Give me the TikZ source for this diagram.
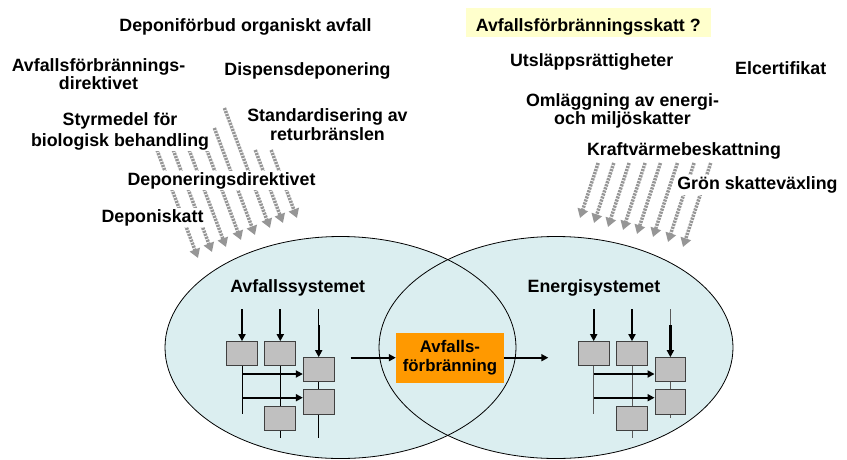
\documentclass[tikz,border=0pt]{standalone}
\usepackage{fontspec}
\setmainfont{Liberation Sans}
\usetikzlibrary{arrows.meta}
\definecolor{sysfill}{RGB}{219,238,240}
\definecolor{boxgray}{RGB}{192,192,192}
\definecolor{boxedge}{RGB}{64,64,64}
\definecolor{burnorange}{RGB}{255,153,0}
\definecolor{notefill}{RGB}{255,255,204}
\definecolor{arrowgray}{RGB}{150,150,150}
\definecolor{linegray}{RGB}{90,90,90}
\newcommand\cuefont{\bfseries\fontsize{17.8}{16}\selectfont\lineskiplimit=-10pt\relax}
\newcommand\burnfont{\bfseries\fontsize{16.8}{19}\selectfont}
\begin{document}
\begin{tikzpicture}[x=1pt,y=-1pt,
  cue/.style={font=\cuefont, fill=white, inner sep=1.5pt, align=center, anchor=base},
  sysname/.style={font=\cuefont, anchor=base, inner sep=0pt},
  pbox/.style={draw=boxedge, fill=boxgray, line width=1pt,
    minimum width=30.7pt, minimum height=24.3pt, inner sep=0pt},
  burnbox/.style={fill=burnorange, minimum width=108pt, minimum height=50pt, inner sep=0pt,
    align=center, font=\burnfont},
  flow/.style={line width=2pt, -{Triangle[length=7pt,width=7pt]}},
  feed/.style={line width=2.2pt, -{Triangle[length=7pt,width=7pt]}},
  instrument/.style={draw=arrowgray, line width=3.5pt, dash pattern=on 2.2pt off 1pt,
    -{Triangle[length=9pt,width=10.5pt]}},
  ]
\useasboundingbox (0,0) rectangle (847,459);

% the waste system and the energy system
\fill[sysfill] (340.5,347.5) ellipse [x radius=175.5pt, y radius=111pt];
\fill[sysfill] (556,347.5) ellipse [x radius=177pt, y radius=111pt];
\draw[line width=0.8pt] (340.5,347.5) ellipse [x radius=175.5pt, y radius=111pt];
\draw[line width=0.8pt] (556,347.5) ellipse [x radius=177pt, y radius=111pt];

% policy instruments acting on the waste system
\foreach \hx/\hy/\sy in {198/258/150, 212/252/150, 226/247/150, 241/240/150,
                         255/235/128, 270/228/108, 283/223/150, 297/218/150}
  \draw[instrument] ({\hx-0.38*(\hy-\sy)},\sy) -- (\hx,\hy);

% policy instruments acting on the energy system
\foreach \hx/\hy in {580/218, 594/223, 608/227, 623/230, 637/234, 653/237, 668/242, 683/247}
  \draw[instrument] ({\hx+0.33*(\hy-163)},163) -- (\hx,\hy);

% instrument names (multi-line names are placed by their last baseline)
\node[cue] (ban)  at (245.5,31)  {Deponiförbud organiskt avfall};
\node[cue] (wid)  at (98.5,89)   {Avfallsförbrännings-\\[1.5pt]direktivet};
\node[cue] (disp) at (307.5,75)  {Dispensdeponering};
\node[cue] (bio)  at (120,146)   {Styrmedel för\\[5pt]biologisk behandling};
\node[cue] (std)  at (327.5,140) {Standardisering av\\[2.3pt]returbränslen};
\node[cue] (ldir) at (221.5,185) {Deponeringsdirektivet};
\node[cue] (ltax) at (152.5,222) {Deponiskatt};

\node[cue, fill=notefill, inner xsep=10pt, inner ysep=0pt, text height=22.7pt, text depth=6.3pt]
  (inctax) at (588.3,31) {Avfallsförbränningsskatt ?};
\node[cue] (ets)   at (591.7,66.7) {Utsläppsrättigheter};
\node[cue] (elc)   at (780.7,74)   {Elcertifikat};
\node[cue] (etax)  at (622.5,124)  {Omläggning av energi-\\[2pt]och miljöskatter};
\node[cue] (chp)   at (684,155.3)  {Kraftvärmebeskattning};
\node[cue] (green) at (757.5,189.3) {Grön skatteväxling};

\node[sysname] (waste)  at (297.7,292.3) {Avfallssystemet};
\node[sysname] (energy) at (594,292.3)   {Energisystemet};

% process schemes inside each system
\foreach \ox/\p/\lc/\cb in {0/L/black/438, 351.7/R/linegray/418}{
  \begin{scope}[shift={(\ox,0)}]
    \node[pbox] (\p A) at (242,353.8) {};
    \node[pbox] (\p B) at (280.3,353.8) {};
    \node[pbox] (\p C) at (318.7,369.8) {};
    \node[pbox] (\p D) at (318.7,402) {};
    \node[pbox] (\p E) at (280.3,418.2) {};
    \coordinate (\p inA) at (242,309);
    \coordinate (\p inB) at (280.3,309);
    \coordinate (\p inC) at (318.7,309);
    \coordinate (\p inCc) at (318.7,325);
    \coordinate (\p outA) at (242,414);
    \coordinate (\p outB) at (280.3,438);
    \coordinate (\p outD) at (318.7,\cb);
    \coordinate (\p hA) at (242,374);
    \coordinate (\p hB) at (242,397.7);
    \draw[\lc, line width=0.8pt] (\p inC) -- (\p inCc);
    \draw[\lc, line width=0.8pt] (\p A.south) -- (\p outA);
    \draw[\lc, line width=0.8pt] (\p B.south) -- (\p E.north);
    \draw[\lc, line width=0.8pt] (\p E.south) -- (\p outB);
    \draw[\lc, line width=0.8pt] (\p C.south) -- (\p D.north);
    \draw[\lc, line width=0.8pt] (\p D.south) -- (\p outD);
    \draw[feed] (\p inA) -- (\p A.north);
    \draw[feed] (\p inB) -- (\p B.north);
    \draw[feed] (\p inCc) -- (\p C.north);
    \draw[feed] (\p hA) -- (\p C.west |- \p hA);
    \draw[feed] (\p hB) -- (\p D.west |- \p hB);
  \end{scope}
}

% waste incineration linking the two systems
\node[burnbox] (burn) at (450,357.7) {Avfalls-\\förbränning};
\coordinate (wasteout) at (350.7,357.7);
\coordinate (energyin) at (548.3,357.7);
\draw[flow] (wasteout) -- (burn.west);
\draw[flow] (burn.east) -- (energyin);
\end{tikzpicture}
\end{document}
